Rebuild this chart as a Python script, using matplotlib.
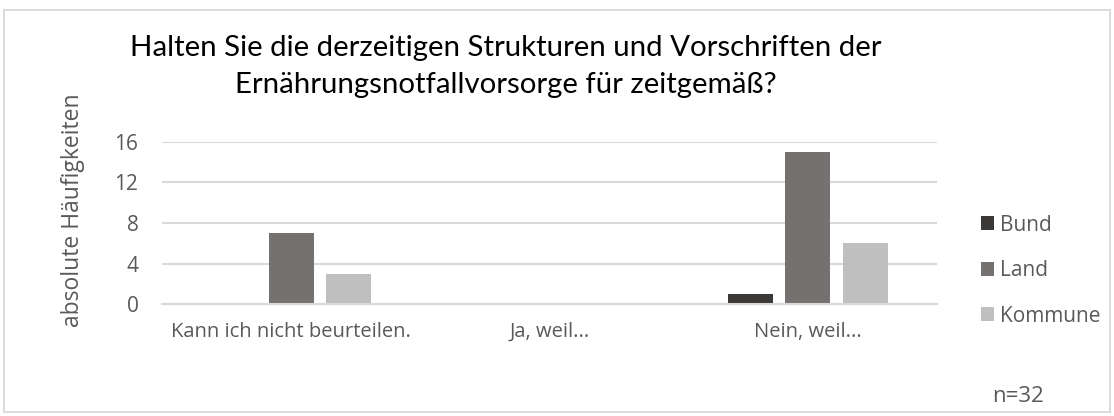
import matplotlib
matplotlib.use("Agg")
import matplotlib.pyplot as plt
import numpy as np
from matplotlib.patches import Rectangle

categories = ["Kann ich nicht beurteilen.", "Ja, weil...", "Nein, weil..."]
series_names = ["Bund", "Land", "Kommune"]
bund = [0, 0, 1]
land = [7, 0, 15]
kommune = [3, 0, 6]
yticks = [0, 4, 8, 12, 16]
colors = ["#3b3838", "#767171", "#bfbfbf"]

fig = plt.figure(figsize=(11.14, 4.16), dpi=100)
fig.patches.append(Rectangle((4/1114, 4/416), 1106/1114, 402/416, transform=fig.transFigure,
                             fill=False, edgecolor="#d9d9d9", linewidth=1.3))
ax = fig.add_axes([162/1114, 1-304/416, 775/1114, 162/416])

x = np.arange(len(categories))
w = 0.175
step = 0.222
for i, (vals, name) in enumerate(zip([bund, land, kommune], series_names)):
    ax.bar(x + (i-1)*step, vals, width=w, color=colors[i], label=name, zorder=3)

ax.set_xlim(-0.5, 2.5)
ax.set_ylim(0, 16)
ax.set_yticks(yticks)
ax.yaxis.grid(True, color="#d9d9d9", linewidth=1.5, zorder=0)
for s in ["top", "right", "left"]:
    ax.spines[s].set_visible(False)
ax.spines["bottom"].set_color("#d9d9d9")
ax.spines["bottom"].set_linewidth(1.5)
ax.spines["bottom"].set_zorder(4)
ax.set_xticks(x)
ax.set_xticklabels(categories, fontfamily="Open Sans", fontsize=14.5, color="#595959")
ax.tick_params(axis="x", length=0, pad=13)
ax.tick_params(axis="y", length=0, pad=17, labelsize=15, labelcolor="#595959")
for lab in ax.get_yticklabels():
    lab.set_fontfamily("Open Sans")

fig.text(73/1114, 1-210/416, "absolute Häufigkeiten", rotation=90, ha="center", va="center",
         fontfamily="Open Sans", fontsize=16.5, color="#595959")

fig.text(506/1114, 1-56/416, "Halten Sie die derzeitigen Strukturen und Vorschriften der",
         ha="center", va="baseline", fontfamily="Lato", fontsize=21.2, color="#000000")
fig.text(506/1114, 1-93/416, "Ernährungsnotfallvorsorge für zeitgemäß?",
         ha="center", va="baseline", fontfamily="Lato", fontsize=21.2, color="#000000")

leg = ax.legend(loc="upper left", bbox_to_anchor=(962/1114, 1-196/416), bbox_transform=fig.transFigure,
                frameon=False, prop={"family": "Open Sans", "size": 15}, handlelength=0.65,
                handleheight=0.65, handletextpad=0.25, labelspacing=1.17)
for t in leg.get_texts():
    t.set_color("#595959")

fig.text(1018/1114, 1-397/416, "n=32", ha="center", va="center", fontfamily="Open Sans",
         fontsize=16, color="#595959")

fig.savefig("out.png", dpi=100)
